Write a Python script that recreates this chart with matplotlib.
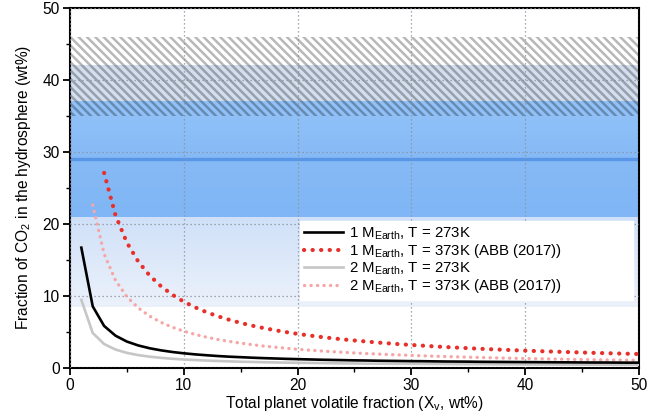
import numpy as np
import matplotlib
matplotlib.use("Agg")
import matplotlib.pyplot as plt
from matplotlib.ticker import MultipleLocator
from matplotlib.colors import LinearSegmentedColormap

plt.rcParams['font.family'] = ['Liberation Sans', 'DejaVu Sans']
plt.rcParams['mathtext.fontset'] = 'custom'
plt.rcParams['mathtext.rm'] = 'Liberation Sans'
plt.rcParams['mathtext.it'] = 'Liberation Sans'
plt.rcParams['hatch.linewidth'] = 1.8

# Total planet volatile fraction (wt%)
x_1 = list(range(1, 51))
x_2 = list(range(1, 51))
x_3 = list(range(3, 51))
x_4 = list(range(2, 51))

# 1 M_Earth, T = 273K
co2_1me_273 = [16.70, 8.55, 5.83, 4.48, 3.66, 3.12, 2.73, 2.44, 2.21, 2.03,
               1.88, 1.76, 1.65, 1.56, 1.49, 1.42, 1.36, 1.31, 1.26, 1.22,
               1.18, 1.14, 1.11, 1.08, 1.05, 1.03, 1.00, 0.98, 0.96, 0.94,
               0.93, 0.91, 0.89, 0.88, 0.87, 0.85, 0.84, 0.83, 0.82, 0.81,
               0.80, 0.79, 0.78, 0.77, 0.76, 0.75, 0.75, 0.74, 0.73, 0.73]
# 2 M_Earth, T = 273K
co2_2me_273 = [9.45, 4.85, 3.32, 2.55, 2.09, 1.78, 1.56, 1.40, 1.27, 1.17,
               1.09, 1.02, 0.96, 0.91, 0.86, 0.83, 0.79, 0.76, 0.73, 0.71,
               0.69, 0.67, 0.65, 0.63, 0.62, 0.60, 0.59, 0.58, 0.57, 0.56,
               0.55, 0.54, 0.53, 0.52, 0.51, 0.51, 0.50, 0.49, 0.49, 0.48,
               0.47, 0.47, 0.46, 0.46, 0.45, 0.45, 0.45, 0.44, 0.44, 0.43]
# 1 M_Earth, T = 373K (ABB 2017)
co2_1me_373 = [27.08, 21.20, 17.41, 14.77, 12.83, 11.34, 10.16, 9.20,
               8.41, 7.74, 7.17, 6.68, 6.25, 5.87, 5.54, 5.24, 4.97, 4.73,
               4.51, 4.31, 4.13, 3.96, 3.81, 3.67, 3.53, 3.41, 3.29, 3.19,
               3.09, 2.99, 2.90, 2.82, 2.74, 2.66, 2.59, 2.53, 2.46, 2.40,
               2.34, 2.29, 2.24, 2.19, 2.14, 2.09, 2.05, 2.01, 1.97, 1.93]
# 2 M_Earth, T = 373K (ABB 2017)
co2_2me_373 = [22.62, 15.83, 12.17, 9.89, 8.33, 7.19, 6.33, 5.65, 5.10,
               4.65, 4.27, 3.95, 3.68, 3.44, 3.23, 3.04, 2.88, 2.73, 2.59,
               2.47, 2.36, 2.26, 2.17, 2.08, 2.00, 1.93, 1.86, 1.80, 1.74,
               1.68, 1.63, 1.58, 1.54, 1.49, 1.45, 1.41, 1.37, 1.34, 1.31,
               1.28, 1.25, 1.22, 1.19, 1.16, 1.14, 1.11, 1.09, 1.07, 1.05]

# Reference ranges (wt% CO2)
hatch_range = (35.0, 46.0)
steel_range = (37.0, 42.0)
blue_range = (21.0, 37.0)
blue_line = 29.0
pale_range = (8.5, 21.0)

fig = plt.figure(figsize=(6.6, 4.12), dpi=100)
ax = fig.add_axes([0.106, 0.107, 0.862, 0.874])
ax.set_xlim(0, 50)
ax.set_ylim(0, 50)

# pale gradient band
pale_cmap = LinearSegmentedColormap.from_list('pale', ['#ecf2fb', '#cfe0f8'])
grad = np.linspace(0, 1, 256).reshape(-1, 1)
ax.imshow(grad, cmap=pale_cmap, aspect='auto', origin='lower',
          extent=[0, 50, pale_range[0], pale_range[1]], zorder=0.5)

# main blue band with a slight vertical shading
blue_cmap = LinearSegmentedColormap.from_list('blue', ['#80b6f5', '#86baf6', '#92c2f8'])
ax.imshow(grad, cmap=blue_cmap, aspect='auto', origin='lower',
          extent=[0, 50, blue_range[0], blue_range[1]], zorder=0.5)
ax.axhspan(*steel_range, color='#d3dfef', lw=0, zorder=0.5)
ax.axhline(blue_line, color='#5a96e8', lw=2.4, zorder=0.6)

# hatched range (translucent stripes)
ax.axhspan(*hatch_range, facecolor='none', edgecolor=(0, 0, 0, 0.28),
           hatch='\\\\\\\\', lw=0, zorder=0.7)

ax.grid(True, which='major', color='#8a8f99', linestyle=(0, (1, 2.2)),
        linewidth=0.9, zorder=0.8)
ax.set_axisbelow(False)

ax.plot(x_1, co2_1me_273, color='black', lw=1.9, zorder=3,
        label=r'1 M$_{\mathrm{Earth}}$, T = 273K')
ax.plot(x_3, co2_1me_373, color='#e8302a', lw=3.0, zorder=3,
        linestyle=(0, (0.05, 2.0)), dash_capstyle='round',
        label=r'1 M$_{\mathrm{Earth}}$, T = 373K (ABB (2017))')
ax.plot(x_2, co2_2me_273, color='#c6c6c6', lw=1.9, zorder=2.9,
        label=r'2 M$_{\mathrm{Earth}}$, T = 273K')
ax.plot(x_4, co2_2me_373, color='#f6a6a6', lw=2.4, zorder=2.8,
        linestyle=(0, (0.05, 1.9)), dash_capstyle='round',
        label=r'2 M$_{\mathrm{Earth}}$, T = 373K (ABB (2017))')

ax.xaxis.set_major_locator(MultipleLocator(10))
ax.xaxis.set_minor_locator(MultipleLocator(5))
ax.yaxis.set_major_locator(MultipleLocator(10))
ax.yaxis.set_minor_locator(MultipleLocator(5))
ax.tick_params(which='major', direction='out', length=5, width=1.3, labelsize=11.2, pad=2.5)
ax.tick_params(which='minor', direction='out', length=3, width=1.0)
for s in ax.spines.values():
    s.set_linewidth(1.5)

ax.set_xlabel(r'Total planet volatile fraction (X$_{\mathrm{v}}$, wt%)', fontsize=11.2, labelpad=0.5)
ax.set_ylabel(r'Fraction of CO$_2$ in the hydrosphere (wt%)', fontsize=11.2, labelpad=7)

leg = ax.legend(loc='upper left', bbox_to_anchor=(0.404, 0.408, 0.585, 0.0),
                mode='expand', borderaxespad=0,
                fontsize=10.8, frameon=True, fancybox=False, framealpha=1.0,
                edgecolor='white', handlelength=2.6, labelspacing=0.02,
                borderpad=0.3, handletextpad=0.35)
leg.set_zorder(5)

fig.savefig('out.png', dpi=100)
